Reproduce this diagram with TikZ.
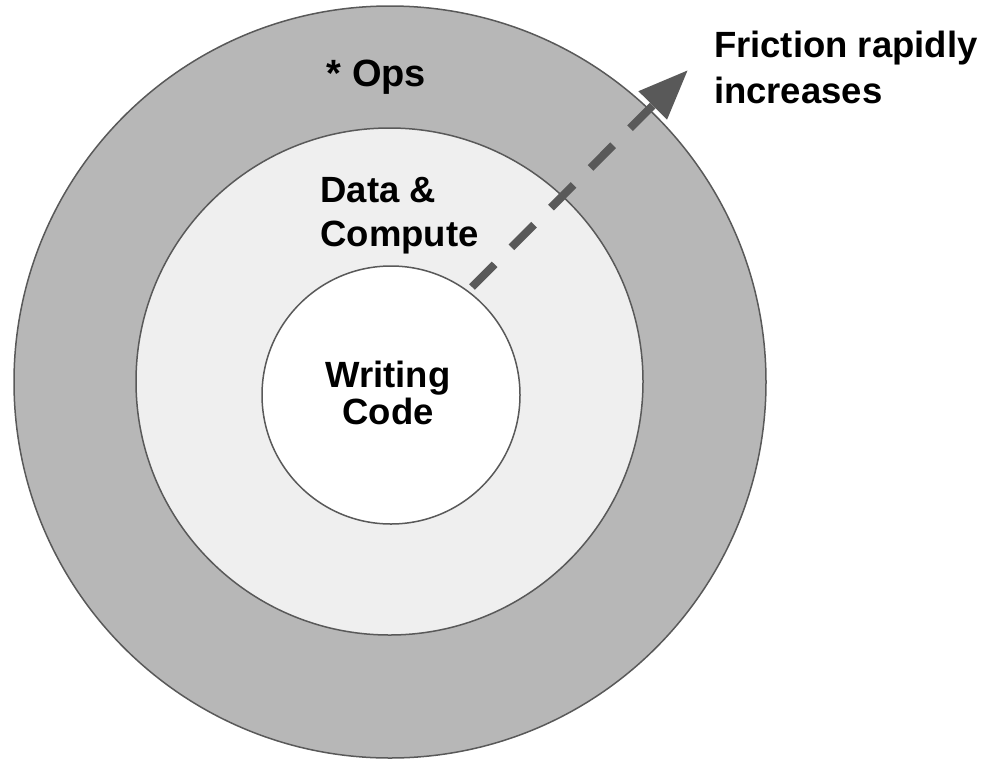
\documentclass[tikz,border=0pt]{standalone}
\usepackage{fontspec}
\setmainfont{Liberation Sans}
\usetikzlibrary{arrows.meta}
\definecolor{opsfill}{HTML}{B7B7B7}
\definecolor{datafill}{HTML}{EFEFEF}
\definecolor{edgegray}{HTML}{595959}
\begin{document}
\begin{tikzpicture}[x=1pt,y=-1pt,
  ring/.style={circle, draw=edgegray, line width=1.5pt, inner sep=0pt, outer sep=0pt},
  lbl/.style={inner sep=0pt, outer sep=0pt, text=black},
  bigfont/.style={font=\fontsize{36.5}{#1}\selectfont\bfseries},
  friction/.style={draw=edgegray, line width=8pt, dash pattern=on 32pt off 24pt,
    -{Triangle[length=50pt,width=38pt,fill=edgegray]}}
]
\useasboundingbox (0,0) rectangle (990,758);

% three nested layers
\node[ring, fill=opsfill, minimum size=752pt] (ops) at (390,382) {};
\node[ring, fill=datafill, minimum size=507pt] (data) at (389.5,381.5) {};
\node[ring, fill=white, minimum size=258pt] (code) at (391,395) {};

% layer labels (multi-line nodes sit on the baseline of their last line)
\node[lbl, font=\fontsize{38}{44}\selectfont\bfseries, anchor=base] (opslabel) at (376.5,86.5) {* Ops};
\node[lbl, bigfont=44, align=left, anchor=base west] (datalabel) at (320.5,246) {Data \&\\Compute};
\node[lbl, bigfont=37.5, align=center, anchor=base] (codelabel) at (388,424.5) {Writing\\Code};

% outward arrow and its caption
\coordinate (fstart) at (472,287);
\coordinate (ftip) at (688,70);
\draw[friction] (fstart) -- (ftip);
\node[lbl, bigfont=46, align=left, anchor=base west] (frictionlabel) at (714,103) {Friction rapidly\\increases};
\end{tikzpicture}
\end{document}
